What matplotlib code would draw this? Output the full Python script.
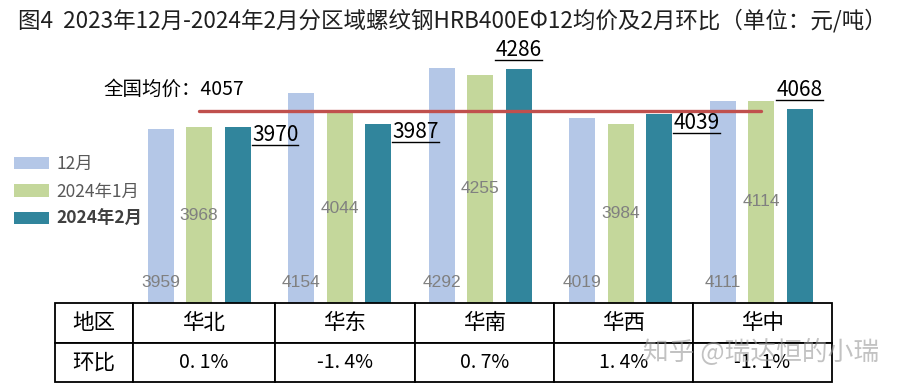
import matplotlib
matplotlib.use("Agg")
import numpy as np
import matplotlib.pyplot as plt
from matplotlib.lines import Line2D

# =========================
# Data
# =========================
REGIONS = ["华北", "华东", "华南", "华西", "华中"]
SERIES = ["12月", "2024年1月", "2024年2月"]
DEC_VALUES = [3959, 4154, 4292, 4019, 4111]
JAN_VALUES = [3968, 4044, 4255, 3984, 4114]
FEB_VALUES = [3970, 3987, 4286, 4039, 4068]
NATIONAL_AVG = 4057
MOM_CHANGE = ["0. 1%", "-1. 4%", "0. 7%", "1. 4%", "-1. 1%"]

TITLE = "图4  2023年12月-2024年2月分区域螺纹钢HRB400EΦ12均价及2月环比（单位：元/吨）"

# =========================
# Style
# =========================
W, H = 900, 392
COLORS = ["#B4C7E7", "#C4D79B", "#31859C"]
AVG_COLOR = "#C0504D"
FEB_LABEL_MODE = ["right", "right", "above", "right", "above"]
plt.rcParams["font.family"] = ["Noto Sans CJK SC", "DejaVu Sans"]
NUM_FONT = ["Liberation Sans Narrow", "Liberation Sans", "DejaVu Sans"]


def px(x0, y0, x1, y1):
    # pixel box (top-left origin) -> figure fraction rect
    return [x0 / W, 1 - y1 / H, (x1 - x0) / W, (y1 - y0) / H]


def main():
    fig = plt.figure(figsize=(W / 100, H / 100), dpi=100)
    fig.patch.set_facecolor("white")

    # =========================
    # Bars
    # =========================
    ax = fig.add_axes(px(55, 40, 832, 303))
    x = np.arange(len(REGIONS))
    bw, step = 0.185, 0.274
    bars = []
    for i, (vals, col, lab) in enumerate(zip([DEC_VALUES, JAN_VALUES, FEB_VALUES], COLORS, SERIES)):
        bars.append(ax.bar(x + (i - 1) * step, vals, width=bw, color=col, label=lab))
    ax.set_xlim(-1.025, 4.505)
    ax.set_ylim(3008, 4445)
    ax.axis("off")

    # national average line
    ax.plot([x[0], x[-1]], [NATIONAL_AVG, NATIONAL_AVG], color=AVG_COLOR, lw=2.4, solid_capstyle="round")
    ax.annotate(f"全国均价：{NATIONAL_AVG}", xy=(x[0], NATIONAL_AVG), xytext=(-69, 8),
                textcoords="offset points", fontsize=14, ha="left", va="bottom", color="black")

    # data labels
    for i in range(len(REGIONS)):
        ax.annotate(f"{DEC_VALUES[i]}", xy=(x[i] - step, ax.get_ylim()[0]), xytext=(0, 15),
                    textcoords="offset points", ha="center", va="center",
                    fontsize=12.5, color="#808080", family=NUM_FONT)
        ax.annotate(f"{JAN_VALUES[i]}", xy=(x[i], (ax.get_ylim()[0] + JAN_VALUES[i]) / 2), xytext=(0, 0),
                    textcoords="offset points", ha="center", va="center",
                    fontsize=12.5, color="#808080", family=NUM_FONT)

    feb_texts = []
    for i in range(len(REGIONS)):
        xb = x[i] + step
        if FEB_LABEL_MODE[i] == "right":
            t = ax.annotate(f"{FEB_VALUES[i]}", xy=(xb + bw / 2, FEB_VALUES[i]), xytext=(1, -6),
                            textcoords="offset points", ha="left", va="center",
                            fontsize=15, color="black")
        else:
            t = ax.annotate(f"{FEB_VALUES[i]}", xy=(xb, FEB_VALUES[i]), xytext=(0, 14),
                            textcoords="offset points", ha="center", va="center",
                            fontsize=15, color="black")
        feb_texts.append(t)

    # =========================
    # Legend
    # =========================
    leg = ax.legend(handles=bars, loc="upper left", bbox_to_anchor=(14 / W, 1 - 155 / H),
                    bbox_transform=fig.transFigure, frameon=False, fontsize=12.5,
                    handlelength=2.0, handleheight=0.7, handletextpad=0.45,
                    labelspacing=0.55, borderpad=0, borderaxespad=0)
    for k, txt in enumerate(leg.get_texts()):
        txt.set_color("#595959")
        if k == 2:
            txt.set_fontweight("bold")
            txt.set_color("#404040")

    # =========================
    # Title and watermark
    # =========================
    fig.text(18 / W, 1 - 21 / H, TITLE, fontsize=16.2, fontweight="medium",
             ha="left", va="center", color="#1f1f1f")
    fig.text(879 / W, 1 - 352 / H, "知乎 @瑞达恒的小瑞", fontsize=18.5, ha="right", va="center",
             color="#9a9a9a", alpha=0.6, zorder=10)

    # =========================
    # Table
    # =========================
    tax = fig.add_axes(px(55, 303, 832, 382))
    tax.axis("off")
    widths = np.array([78, 142, 140, 139, 139, 139], dtype=float)
    tab = tax.table(cellText=[["地区"] + REGIONS, ["环比"] + MOM_CHANGE],
                    colWidths=list(widths / widths.sum()), cellLoc="center", bbox=[0, 0, 1, 1])
    tab.auto_set_font_size(False)
    for (r, c), cell in tab.get_celld().items():
        cell.set_linewidth(1.3)
        cell.set_edgecolor("black")
        cell.get_text().set_fontsize(15.5 if r == 0 or c == 0 else 14)
        cell.get_text().set_color("black")

    # underline the February labels
    fig.canvas.draw()
    renderer = fig.canvas.get_renderer()
    inv = fig.transFigure.inverted()
    for t in feb_texts:
        bb = t.get_window_extent(renderer)
        (x0, y0), (x1, _) = inv.transform([[bb.x0, bb.y0], [bb.x1, bb.y1]])
        fig.add_artist(Line2D([x0, x1], [y0 + 1 / H, y0 + 1 / H], color="black", lw=1.0,
                              transform=fig.transFigure))

    fig.savefig("out.png", dpi=100, facecolor="white")
    plt.close(fig)


if __name__ == "__main__":
    main()
